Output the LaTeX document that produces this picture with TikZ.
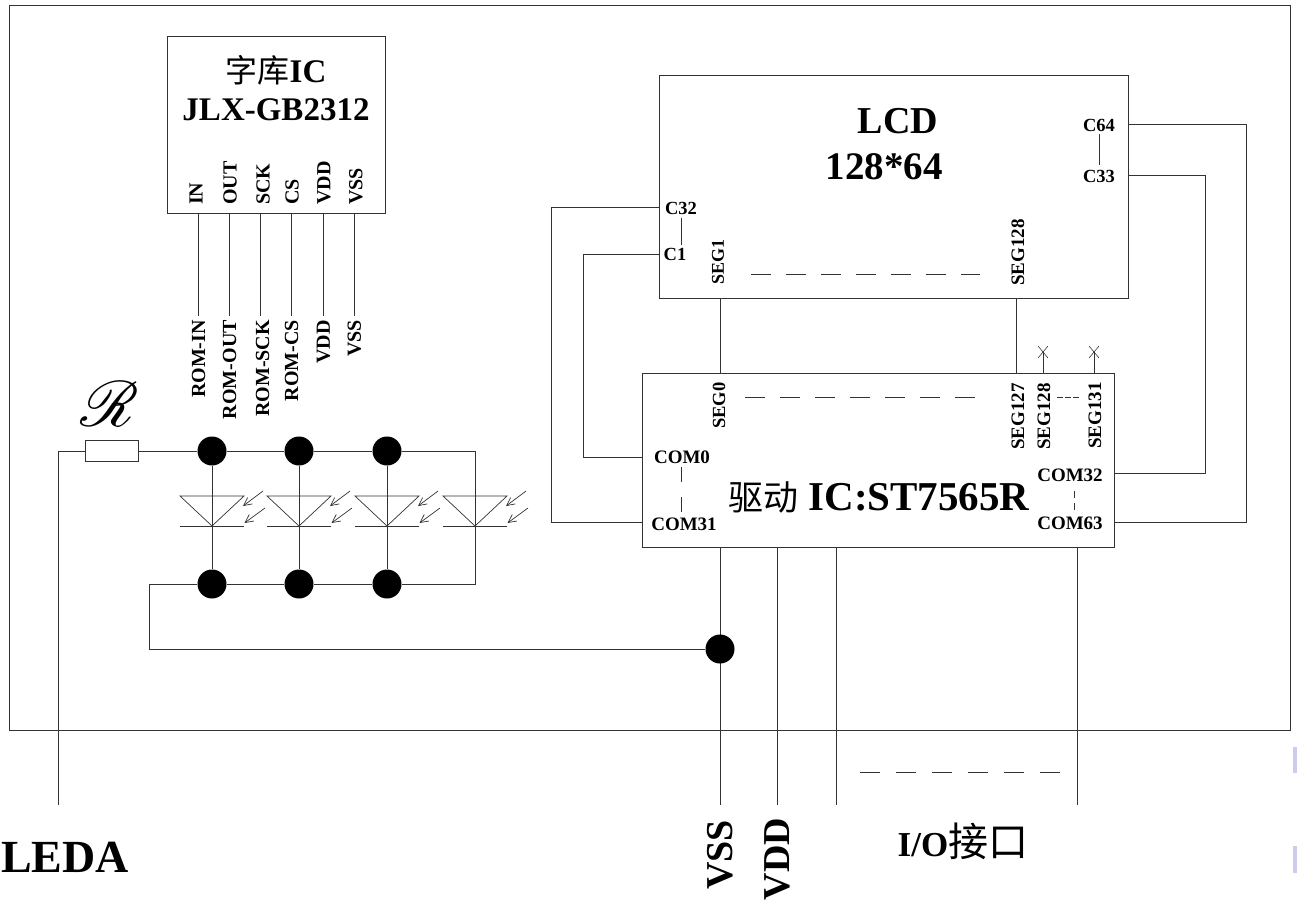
\documentclass[tikz,border=0pt]{standalone}
\usepackage{fontspec}
\usepackage{mathrsfs}
\setmainfont{Liberation Serif}
\newfontfamily\cjk{Noto Sans CJK SC}
\newcommand{\cjkt}[2]{{\cjk\mdseries\fontsize{#1}{#1}\selectfont #2}}
\usetikzlibrary{arrows.meta,calc}
\definecolor{ln}{HTML}{333333}
\definecolor{smudge}{HTML}{CCCCF0}
\tikzset{
  wire/.style={draw=ln,line width=1pt},
  box/.style={draw=ln,line width=1pt,fill=white,anchor=north west,inner sep=0pt,outer sep=0pt},
  dot/.style={circle,fill=black,draw=none,minimum size=29pt,inner sep=0pt},
  gap/.style={draw=ln,line width=1pt,dash pattern=on 20pt off 15pt},
  vlab/.style={rotate=90,font=\bfseries\fontsize{#1}{#1}\selectfont,inner sep=0pt},
  hlab/.style={font=\bfseries\fontsize{#1}{#1}\selectfont,inner sep=0pt},
  light/.style={draw=ln,line width=0.7pt,-{Straight Barb[length=8pt,width=8pt]}},
}
\begin{document}
\begin{tikzpicture}[x=1pt,y=-1pt]
\useasboundingbox (0,0) rectangle (1297,901);
% outer frame
\node[box,minimum width=1281pt,minimum height=724pt] (frame) at (9,6) {};
% font IC
\node[box,minimum width=218pt,minimum height=177pt] (rom) at (167,37) {};
\node[hlab=33] (romA) at (276,70) {\cjkt{32}{字库}IC};
\node[hlab=33] (romB) at (276,110) {JLX-GB2312};
\foreach \n/\x/\tx/\lab/\ext in {a/198/196/IN/ROM-IN,b/229/230/OUT/ROM-OUT,c/260/263/SCK/ROM-SCK,d/291/292/CS/ROM-CS,e/323/324/VDD/VDD,f/354/356/VSS/VSS}{
  \coordinate (pin\n) at (\x,214);
  \coordinate (end\n) at (\x,316);
  \draw[wire] (pin\n) -- (end\n);
  \node[vlab=20,anchor=west] (lab\n) at (\tx,205) {\lab};
  \node[vlab=20,anchor=east] (rom\n) at ({\x+0.5+(\x==260)*2},320) {\ext};
}
% LCD
\node[box,minimum width=469pt,minimum height=222pt] (lcd) at (659,76) {};
\node[hlab=38] (lcdA) at (898,121) {LCD};
\node[hlab=39] (lcdB) at (884,167) {128*64};
\node[hlab=18.5] (c64) at (1099,125) {C64};
\node[hlab=18.5] (c33) at (1099,176) {C33};
\draw[wire] (1099,134) -- (1099,165);
\node[hlab=18.5] (c32) at (681,208) {C32};
\node[hlab=18.5] (c1) at (675,254) {C1};
\draw[wire] (681,218) -- (681,245);
\node[vlab=18,anchor=west] (seg1) at (718,285) {SEG1};
\node[vlab=19,anchor=west] (seg128a) at (1018,286) {SEG128};
\draw[gap] (751,274) -- (980,274);
% driver
\node[box,minimum width=472pt,minimum height=174pt] (drv) at (642,373) {};
\node[hlab=41,anchor=west] (drvT) at (728,497) {\cjkt{35}{驱动} IC:ST7565R};
\node[vlab=18.5,anchor=west] (seg0) at (719,429) {SEG0};
\node[vlab=19,anchor=west] (seg127) at (1018,450) {SEG127};
\node[vlab=19,anchor=west] (seg128) at (1044,450) {SEG128};
\node[vlab=19,anchor=west] (seg131) at (1095,449) {SEG131};
\draw[gap] (745,397.5) -- (977,397.5);
\draw[wire,dash pattern=on 6pt off 2pt] (1057,397.5) -- (1080,397.5);
\node[hlab=19] (com0) at (682,457) {COM0};
\node[hlab=19] (com31) at (684,524) {COM31};
\node[hlab=19] (com32) at (1070,475) {COM32};
\node[hlab=19] (com63) at (1070,523) {COM63};
\draw[wire,dash pattern=on 15pt off 15pt] (681,467) -- (681,512);
\draw[wire,dash pattern=on 7pt off 5pt] (1074,491) -- (1074,510);
% LCD to driver connectors
\draw[wire] (720,298) -- (720,373);
\draw[wire] (1016,298) -- (1016,373);
\coordinate (x1) at (1043,352);
\coordinate (x2) at (1094,352);
\draw[wire] (drv.north west -| x1) -- (x1);
\draw[wire] (drv.north west -| x2) -- (x2);
\foreach \c in {x1,x2}{
  \draw[draw=ln,line width=0.6pt] ($(\c)+(-5,-6)$) -- ($(\c)+(5,6)$);
  \draw[draw=ln,line width=0.6pt] ($(\c)+(5,-6)$) -- ($(\c)+(-5,6)$);
}
\draw[wire] (lcd.north west |- 0,208) -- (551,208) -- (551,522) -- (drv.north west |- 0,522);
\draw[wire] (lcd.north west |- 0,254) -- (583,254) -- (583,457) -- (drv.north west |- 0,457);
\draw[wire] (lcd.north east |- 0,125) -- (1246,125) -- (1246,522) -- (drv.north east |- 0,522);
\draw[wire] (lcd.north east |- 0,176) -- (1205,176) -- (1205,473) -- (drv.north east |- 0,473);
% bottom leads
\draw[wire] (720,547) -- (720,805);
\draw[wire] (777,547) -- (777,805);
\draw[wire] (836,547) -- (836,805);
\draw[wire] (1077,547) -- (1077,805);
\draw[gap,dash pattern=on 20pt off 16pt] (860,772) -- (1065,772);
% LED array
\node[box,minimum width=53pt,minimum height=21pt] (res) at (85,440.5) {};
\node[inner sep=0pt] (rname) at (110,404) {\scalebox{6.4}{$\mathscr{R}$}};
\coordinate (ledaEnd) at (58,805);
\draw[wire] (res.west) -- (58,451) -- (ledaEnd);
\node[dot] (t1) at (212,451) {};
\node[dot] (t2) at (299,451) {};
\node[dot] (t3) at (387,451) {};
\node[dot] (b1) at (212,584) {};
\node[dot] (b2) at (299,584) {};
\node[dot] (b3) at (387,584) {};
\node[dot] (gnd) at (720,649) {};
\draw[wire] (res.east) -- (t1) -- (t2) -- (t3) -- (475,451) -- (475,584) -- (b3) -- (b2) -- (b1) -- (149,584) -- (149,649) -- (gnd);
\foreach \t/\b in {t1/b1,t2/b2,t3/b3}{\draw[wire] (\t) -- (\b);}
\foreach \x in {212,299,387,475}{
  \draw[draw=ln,line width=0.7pt] (\x-32,496) -- (\x+32,496) -- (\x,526) -- cycle;
  \draw[draw=ln,line width=0.7pt] (\x-32,526) -- (\x+32,526);
  \draw[light] (\x+51,491) -- (\x+31,506);
  \draw[light] (\x+53,508) -- (\x+32.5,523);
}
% terminal labels
\node[hlab=46,anchor=west] (leda) at (1,857) {LEDA};
\node[vlab=38,anchor=center] (vss) at (720,855) {VSS};
\node[vlab=38,anchor=center] (vdd) at (777,859) {VDD};
\node[hlab=35] (io) at (963,841) {I/O\cjkt{40}{接口}};
% smudges
\fill[smudge] (1293,747) rectangle (1297,773);
\fill[smudge] (1293,846) rectangle (1297,873);
\end{tikzpicture}
\end{document}
